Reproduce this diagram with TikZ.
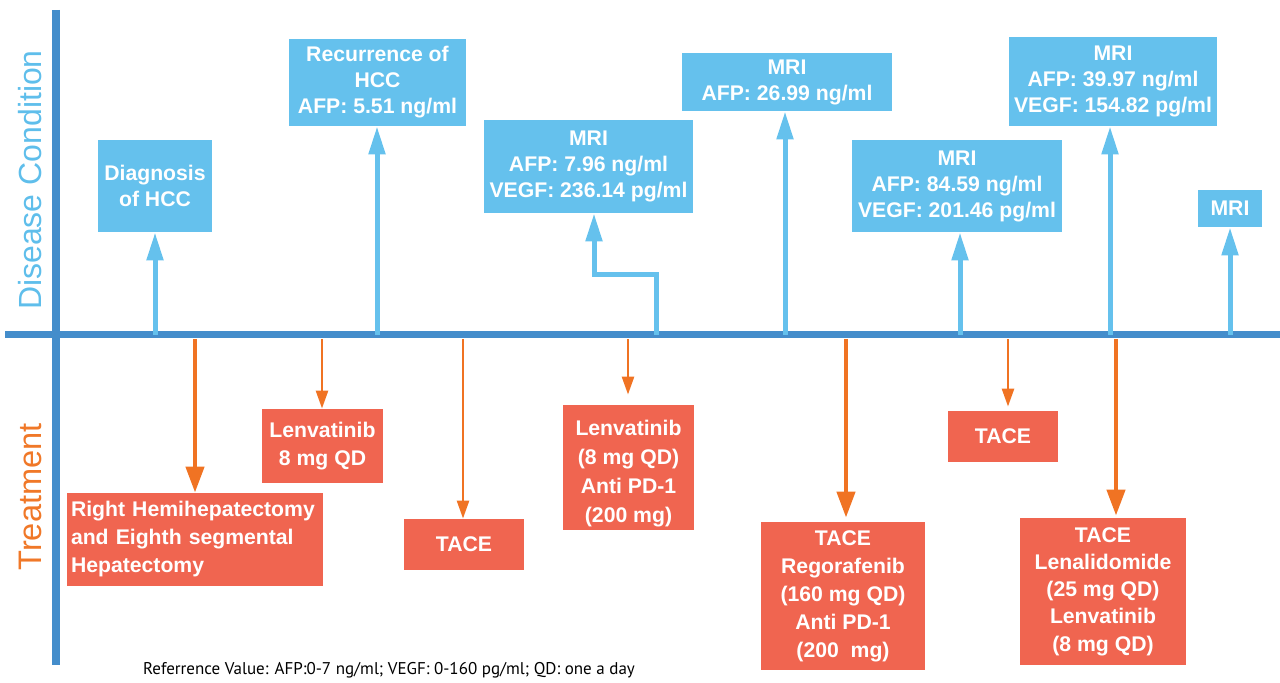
\documentclass[tikz,border=0pt]{standalone}
\usepackage{fontspec}
\setmainfont{Liberation Sans}
\newfontfamily\notefont{PT Sans}
\usetikzlibrary{arrows.meta}
\definecolor{axisblue}{RGB}{68,141,203}
\definecolor{boxblue}{RGB}{101,193,237}
\definecolor{boxorange}{RGB}{240,101,80}
\definecolor{arroworange}{RGB}{240,115,35}
\definecolor{labelblue}{RGB}{95,190,235}
\definecolor{labelorange}{RGB}{240,120,40}
\tikzset{
  bbox/.style={fill=boxblue, text=white, align=center, inner sep=1pt,
    font=\bfseries\fontsize{10.6}{13}\selectfont},
  obox/.style={fill=boxorange, text=white, align=center, inner sep=1pt,
    font=\bfseries\fontsize{10.6}{14}\selectfont},
  axisline/.style={draw=axisblue, line width=4pt},
  barrow/.style={draw=boxblue, line width=2.5pt, -{Triangle[length=14pt,width=8pt]}},
  othick/.style={draw=arroworange, line width=2.2pt, -{Triangle[length=13pt,width=9pt]}},
  othin/.style={draw=arroworange, line width=1.3pt, -{Triangle[length=9pt,width=6pt]}},
}
\begin{document}
\begin{tikzpicture}[x=0.5pt,y=-0.5pt]
\useasboundingbox (0,0) rectangle (1280,683);
% axes
\draw[axisline] (56,10) -- (56,665);
\draw[axisline, line width=3.5pt] (5,335) -- (1280,335);
% axis labels
\node[rotate=90, text=labelblue, font=\fontsize{16}{16}\selectfont] (lab1) at (30,180) {Disease Condition};
\node[rotate=90, text=labelorange, font=\fontsize{16.3}{16}\selectfont] (lab2) at (30,497) {Treatment};
% blue boxes
\node[bbox, minimum width=57pt, minimum height=46pt] (d1) at (155,186) {Diagnosis\\of HCC};
\node[bbox, minimum width=88.5pt, minimum height=43.5pt] (d2) at (377.5,82.5) {Recurrence of\\HCC\\AFP: 5.51 ng/ml};
\node[bbox, minimum width=104.5pt, minimum height=46.5pt] (d3) at (588.5,166.5) {MRI\\AFP: 7.96 ng/ml\\VEGF: 236.14 pg/ml};
\node[bbox, minimum width=105pt, minimum height=29pt] (d4) at (787,82) {MRI\\AFP: 26.99 ng/ml};
\node[bbox, minimum width=105pt, minimum height=46pt] (d5) at (957,186) {MRI\\AFP: 84.59 ng/ml\\VEGF: 201.46 pg/ml};
\node[bbox, minimum width=104pt, minimum height=44.5pt] (d6) at (1113,81.5) {MRI\\AFP: 39.97 ng/ml\\VEGF: 154.82 pg/ml};
\node[bbox, minimum width=32pt, minimum height=18.5pt] (d7) at (1230,208.5) {MRI};
% blue arrow starts
\coordinate (s1) at (155,335);
\coordinate (s2) at (377,335);
\coordinate (s3) at (656,335);
\coordinate (s4) at (785,335);
\coordinate (s5) at (960,335);
\coordinate (s6) at (1110,335);
\coordinate (s7) at (1230,335);
\coordinate (k3) at (656,275);
\coordinate (k3b) at (594,275);
\draw[barrow] (s1) -- (s1 |- d1.south);
\draw[barrow] (s2) -- (s2 |- d2.south);
\draw[barrow] (s3) -- (k3) -- (k3b) -- (k3b |- d3.south);
\draw[barrow] (s4) -- (s4 |- d4.south);
\draw[barrow] (s5) -- (s5 |- d5.south);
\draw[barrow] (s6) -- (s6 |- d6.south);
\draw[barrow] (s7) -- (s7 |- d7.south);
% orange boxes
\node[obox, align=left, text width=124pt, minimum height=46.5pt, inner sep=2pt] (t1) at (195,539.5) {Right Hemihepatectomy\\and Eighth segmental\\Hepatectomy};
\node[obox, minimum width=60.5pt, minimum height=37pt] (t2) at (322.5,446) {Lenvatinib\\8 mg QD};
\node[obox, minimum width=60pt, minimum height=25.5pt] (t3) at (464,544.5) {TACE};
\node[obox, minimum width=65.5pt, minimum height=62.5pt] (t4) at (628.5,467.5) {};
\node[text=white, align=center, inner sep=0pt, font=\bfseries\fontsize{10.6}{14.6}\selectfont] (t4txt) at ([yshift=-3pt]t4.center) {Lenvatinib\\(8 mg QD)\\Anti PD-1\\(200 mg)};
\node[obox, minimum width=82pt, minimum height=74pt] (t5) at (843,596) {TACE\\Regorafenib\\(160 mg QD)\\Anti PD-1\\(200 \ mg)};
\node[obox, minimum width=55pt, minimum height=25.5pt] (t6) at (1003,436.5) {TACE};
\node[obox, minimum width=83pt, minimum height=73.5pt, font=\bfseries\fontsize{10.6}{13.6}\selectfont] (t7) at (1103,591.5) {TACE\\Lenalidomide\\(25 mg QD)\\Lenvatinib\\(8 mg QD)};
% orange arrow starts
\coordinate (u1) at (195,339);
\coordinate (u2) at (322,339);
\coordinate (u3) at (463,339);
\coordinate (u4) at (628,339);
\coordinate (u5) at (846,339);
\coordinate (u6) at (1008,339);
\coordinate (u7) at (1116,339);
\draw[othick] (u1) -- (u1 |- t1.north);
\draw[othin] (u2) -- (u2 |- t2.north);
\draw[othin] (u3) -- (u3 |- t3.north);
\draw[othin] (u4) -- ([yshift=5pt]u4 |- t4.north);
\draw[othick] (u5) -- ([yshift=2pt]u5 |- t5.north);
\draw[othin] (u6) -- ([yshift=2pt]u6 |- t6.north);
\draw[othick] (u7) -- ([yshift=1pt]u7 |- t7.north);
% footnote
\node[font=\notefont\fontsize{8.5}{8.5}\selectfont, text=black] (note) at (389,670) {Referrence Value: AFP:0-7 ng/ml; VEGF: 0-160 pg/ml; QD: one a day};
\end{tikzpicture}
\end{document}
